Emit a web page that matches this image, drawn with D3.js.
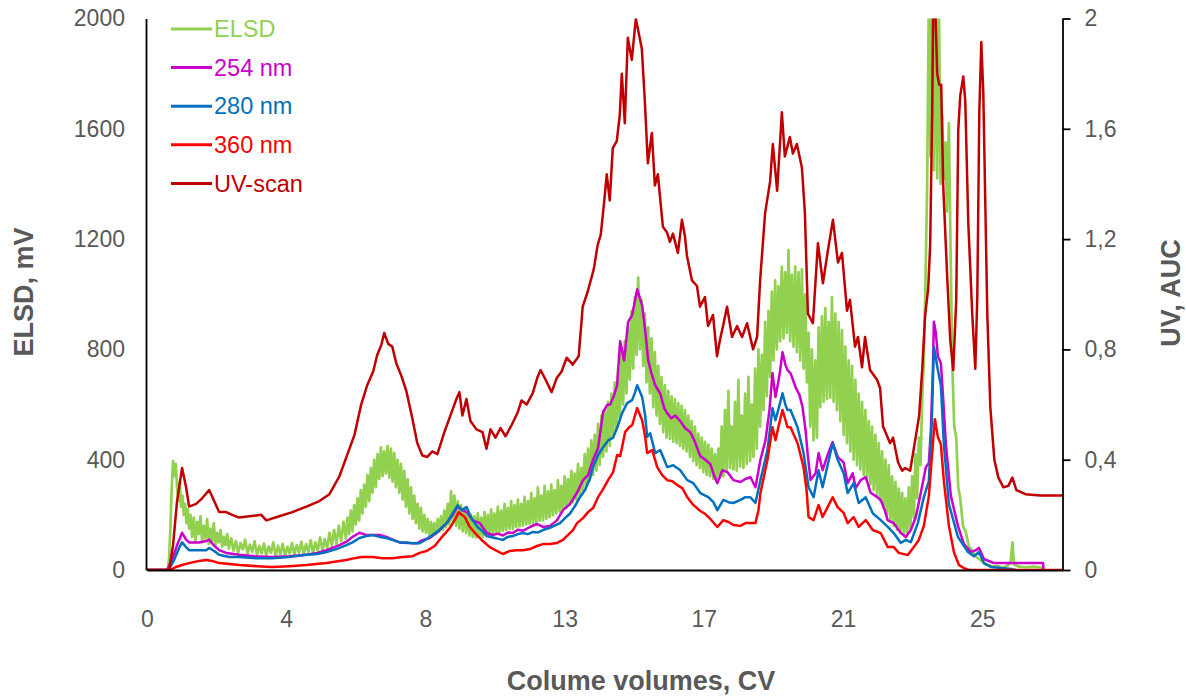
<!DOCTYPE html>
<html>
<head>
<meta charset="utf-8">
<script src="https://cdn.jsdelivr.net/npm/d3@7"></script>
<style>
  html, body { margin: 0; padding: 0; background: #ffffff; }
  svg { display: block; font-family: "Liberation Sans", Arial, sans-serif; }
</style>
</head>
<body>
<svg id="chart" width="1186" height="697"></svg>
<script>
// ---- Axis ticks ----
const xTickValues = [0, 4.1667, 8.3333, 12.5, 16.6667, 20.8333, 25];
const xTickLabels = ["0", "4", "8", "13", "17", "21", "25"];
const elsdTicks = [0, 400, 800, 1200, 1600, 2000];
const uvTicks = [0, 0.4, 0.8, 1.2, 1.6, 2];
const uvTickLabels = ["0", "0,4", "0,8", "1,2", "1,6", "2"];

// ---- Series names and colours ----
const seriesNames = ["ELSD", "254 nm", "280 nm", "360 nm", "UV-scan"];
const seriesColors = ["#92D050", "#CC00CC", "#0070C0", "#FF0000", "#C00000"];

// ---- ELSD signal, [CV, mV] (noisy detector trace) ----
const elsd = [
  [0,0],[0.62,0],[0.66,40],[0.7,150],[0.74,300],[0.78,395],[0.82,340],[0.86,385],[0.9,300],[0.94,250],[0.98,320],[1.02,230],[1.06,270],[1.1,200],[1.14,240],[1.18,170],[1.22,220],[1.26,150],[1.3,200],
  [1.35,120],[1.4,190],[1.45,105],[1.5,175],[1.55,130],[1.6,195],[1.65,100],[1.7,160],[1.75,115],[1.8,185],[1.85,95],[1.9,150],[1.95,105],[2.0,170],[2.05,90],[2.1,135],[2.15,100],[2.2,145],[2.25,85],[2.3,120],[2.35,90],[2.4,130],[2.45,78],
  [2.52,115],[2.59,70],[2.66,105],[2.73,62],[2.8,98],[2.87,75],[2.94,110],[3.01,58],[3.08,92],[3.15,66],[3.22,104],[3.29,55],[3.36,88],[3.43,60],[3.5,96],[3.57,52],[3.64,85],[3.71,62],[3.78,100],[3.85,50],[3.92,88],[3.99,57],[4.06,95],[4.13,52],[4.2,84],[4.27,60],[4.34,98],[4.41,55],[4.48,90],[4.55,63],[4.62,102],[4.69,58],[4.76,94],[4.83,66],[4.9,108],[4.97,62],[5.04,100],[5.11,70],[5.18,118],[5.25,72],[5.32,112],[5.39,80],[5.46,135],[5.53,88],[5.6,145],[5.67,95],[5.74,160],[5.81,105],[5.88,175],[5.95,115],
  [6.0,190],[6.05,130],[6.1,215],[6.15,140],[6.2,235],[6.25,165],[6.3,260],[6.35,180],[6.4,290],[6.45,205],[6.5,310],[6.55,230],[6.6,345],[6.65,250],[6.7,370],[6.75,280],[6.8,400],[6.85,300],[6.9,420],[6.95,330],[7.0,445],[7.05,340],[7.1,430],[7.15,350],[7.2,450],
  [7.25,335],[7.3,440],[7.35,320],[7.4,425],[7.45,300],[7.5,400],[7.55,280],[7.6,385],[7.65,255],[7.7,360],[7.75,230],[7.8,330],[7.85,205],[7.9,300],[7.95,185],[8.0,270],[8.05,170],[8.1,240],[8.15,150],[8.2,225],[8.25,140],[8.3,200],[8.35,135],[8.4,185],[8.45,128],[8.5,175],[8.55,125],
  [8.6,170],[8.65,130],[8.7,185],[8.75,138],[8.8,195],[8.85,145],[8.9,215],[8.95,155],[9.0,240],[9.05,165],[9.1,285],[9.15,175],[9.2,270],[9.25,160],[9.3,250],[9.35,150],[9.4,235],[9.45,140],[9.5,225],[9.55,135],[9.6,215],[9.65,125],
  [9.7,200],[9.75,120],[9.8,195],[9.85,118],[9.9,205],[9.95,122],[10.0,190],[10.05,120],[10.1,210],[10.15,128],[10.2,200],[10.25,125],[10.3,220],[10.35,132],[10.4,205],[10.45,135],[10.5,230],[10.55,138],[10.6,215],[10.65,142],[10.7,240],[10.75,145],[10.8,225],[10.85,150],[10.9,250],[10.95,148],[11.0,235],[11.05,155],[11.1,255],[11.15,158],[11.2,240],[11.25,160],[11.3,265],[11.35,165],[11.4,250],[11.45,168],[11.5,280],[11.55,170],[11.6,260],[11.65,172],[11.7,300],[11.75,178],[11.8,270],[11.85,180],[11.9,305],[11.95,185],[12.0,285],[12.05,192],[12.1,310],[12.15,198],[12.2,290],[12.25,205],[12.3,325],[12.35,212],[12.4,305],[12.45,220],
  [12.5,340],[12.55,225],[12.6,330],[12.65,235],[12.7,360],[12.75,245],[12.8,350],[12.85,255],[12.9,385],[12.95,270],[13.0,370],[13.05,285],[13.1,420],[13.15,305],[13.2,440],[13.25,325],[13.3,470],[13.35,345],[13.4,490],[13.45,360],
  [13.5,530],[13.55,380],[13.6,560],[13.65,410],[13.7,580],[13.75,430],[13.8,610],[13.85,450],[13.9,640],[13.95,480],[14.0,680],[14.05,510],[14.1,730],[14.15,550],[14.2,790],[14.25,600],[14.3,830],[14.35,640],[14.4,880],[14.45,690],[14.5,940],[14.55,730],[14.6,990],[14.65,780],[14.7,1060],[14.75,800],[14.8,980],
  [14.85,740],[14.9,930],[14.95,680],[15.0,880],[15.05,640],[15.1,840],[15.15,590],[15.2,790],[15.25,560],
  [15.3,740],[15.35,530],[15.4,700],[15.45,500],[15.5,670],[15.55,480],[15.6,650],[15.65,475],[15.7,630],[15.75,465],[15.8,620],[15.85,460],[15.9,605],[15.95,450],[16.0,595],[16.05,440],[16.1,580],[16.15,430],
  [16.2,560],[16.25,410],[16.3,540],[16.35,395],[16.4,520],[16.45,380],[16.5,495],[16.55,370],[16.6,480],[16.65,355],[16.7,465],[16.75,345],[16.8,455],[16.85,340],[16.9,440],[16.95,330],[17.0,420],[17.05,320],[17.1,440],[17.15,335],[17.2,520],[17.25,340],[17.3,580],[17.35,355],
  [17.4,650],[17.45,370],[17.5,520],[17.55,365],[17.6,610],[17.65,360],[17.7,690],[17.75,375],[17.8,560],[17.85,370],[17.9,640],[17.95,385],[18.0,700],[18.05,395],[18.1,600],[18.15,410],[18.2,730],[18.25,440],
  [18.3,800],[18.35,520],[18.4,780],[18.45,580],[18.5,900],[18.55,630],[18.6,940],[18.65,700],[18.7,1010],[18.75,760],[18.8,1050],[18.85,800],[18.9,1030],[18.95,830],
  [19.0,1100],[19.05,840],[19.1,1080],[19.15,860],[19.2,1160],[19.25,830],[19.3,1070],[19.35,810],[19.4,1100],[19.45,790],[19.5,1080],[19.55,760],[19.6,1090],[19.65,730],[19.7,1000],[19.75,680],
  [19.8,860],[19.85,520],[19.9,800],[19.95,470],[20.0,760],[20.05,480],
  [20.1,880],[20.15,590],[20.2,920],[20.25,610],[20.3,950],[20.35,620],[20.4,900],[20.45,625],[20.5,990],[20.55,610],[20.6,930],[20.65,580],[20.7,900],[20.75,540],
  [20.8,870],[20.85,490],[20.9,810],[20.95,460],[21.0,760],[21.05,430],[21.1,740],[21.15,400],[21.2,690],[21.25,380],
  [21.3,640],[21.35,365],[21.4,610],[21.45,345],[21.5,580],[21.55,330],[21.6,540],[21.65,310],[21.7,520],[21.75,290],[21.8,490],[21.85,270],[21.9,460],[21.95,250],
  [22.0,430],[22.05,225],[22.1,400],[22.15,200],[22.2,380],[22.25,180],[22.3,340],[22.35,160],[22.4,320],[22.45,145],[22.5,295],[22.55,135],
  [22.6,280],[22.65,130],[22.7,260],[22.75,125],[22.8,300],[22.85,150],[22.9,340],[22.95,190],[23.0,420],[23.05,260],[23.1,480],[23.15,380],[23.2,620],
  [23.25,760],[23.3,1050],[23.35,1400],[23.4,2100],[23.45,1500],[23.5,2100],[23.55,1450],[23.6,2100],[23.65,1420],[23.7,2100],[23.75,1400],[23.8,1650],[23.85,1420],[23.9,1550],[23.94,1300],[24.0,1620],[24.04,1250],[24.1,750],[24.16,520],[24.22,480],[24.28,300],[24.34,260],[24.42,160],[24.5,140],
  [24.6,85],[24.7,70],[24.8,50],[24.9,40],[25.0,30],[25.1,20],[25.2,18],[25.3,12],
  [25.45,15],[25.6,8],[25.75,15],[25.85,30],[25.9,100],[25.95,20],[26.1,12],[26.3,10],[26.5,12],[26.7,10],[26.8,8]
];

// ---- 254 nm absorbance, [CV, AUC] ----
const uv254 = [
  [0,0],[0.6,0],[0.75,0.036],[0.9,0.09],[1.05,0.135],[1.17,0.11],[1.26,0.1],[1.56,0.1],[1.77,0.105],[1.86,0.11],[2.01,0.088],[2.16,0.072],[2.37,0.062],[2.76,0.055],[3.21,0.05],[3.75,0.047],[4.26,0.05],[4.77,0.055],[5.1,0.062],[5.37,0.072],[5.76,0.09],[6.0,0.105],[6.15,0.12],[6.36,0.135],[6.54,0.128],[6.75,0.127],[6.96,0.127],[7.17,0.12],[7.35,0.11],[7.56,0.1],[7.8,0.098],[8.07,0.097],[8.25,0.108],[8.46,0.116],[8.7,0.138],[8.97,0.17],[9.15,0.2],[9.3,0.232],[9.42,0.217],[9.57,0.21],[9.75,0.18],[9.96,0.17],[10.17,0.134],[10.35,0.127],[10.5,0.132],[10.65,0.125],[10.8,0.136],[10.95,0.134],[11.1,0.146],[11.25,0.142],[11.46,0.156],[11.67,0.167],[11.85,0.156],[12.06,0.16],[12.27,0.18],[12.45,0.217],[12.66,0.24],[12.87,0.28],[13.05,0.326],[13.2,0.344],[13.35,0.4],[13.5,0.442],[13.65,0.573],[13.77,0.598],[13.86,0.6],[13.98,0.634],[14.07,0.67],[14.16,0.83],[14.28,0.76],[14.4,0.9],[14.52,0.924],[14.67,1.018],[14.82,0.96],[14.91,0.87],[15.0,0.76],[15.09,0.717],[15.21,0.67],[15.36,0.64],[15.48,0.587],[15.57,0.569],[15.69,0.55],[15.81,0.56],[15.96,0.54],[16.11,0.514],[16.26,0.5],[16.38,0.47],[16.56,0.413],[16.71,0.4],[16.86,0.384],[16.98,0.34],[17.07,0.315],[17.22,0.362],[17.37,0.355],[17.55,0.326],[17.76,0.319],[17.91,0.33],[18.06,0.337],[18.21,0.3],[18.36,0.4],[18.51,0.47],[18.63,0.58],[18.72,0.714],[18.81,0.627],[18.93,0.707],[19.02,0.79],[19.11,0.743],[19.17,0.725],[19.26,0.714],[19.41,0.663],[19.53,0.634],[19.62,0.59],[19.71,0.507],[19.77,0.424],[19.86,0.326],[20.01,0.351],[20.1,0.424],[20.22,0.362],[20.37,0.417],[20.52,0.464],[20.67,0.41],[20.76,0.4],[20.85,0.39],[20.97,0.315],[21.12,0.351],[21.21,0.297],[21.36,0.326],[21.51,0.337],[21.66,0.28],[21.81,0.268],[21.96,0.254],[22.08,0.217],[22.17,0.18],[22.35,0.17],[22.56,0.134],[22.71,0.12],[22.86,0.145],[23.01,0.192],[23.16,0.28],[23.31,0.373],[23.4,0.388],[23.46,0.507],[23.52,0.725],[23.55,0.9],[23.61,0.86],[23.67,0.775],[23.76,0.75],[23.82,0.64],[23.91,0.456],[24.06,0.268],[24.27,0.16],[24.45,0.094],[24.66,0.065],[24.81,0.072],[24.9,0.08],[25.05,0.04],[25.35,0.025],[25.86,0.025],[26.31,0.025],[26.82,0.025],[26.83,0]
];

// ---- 280 nm absorbance, [CV, AUC] ----
const uv280 = [
  [0,0],[0.65,0],[0.81,0.036],[0.96,0.08],[1.05,0.1],[1.17,0.083],[1.26,0.072],[1.56,0.072],[1.77,0.072],[1.86,0.08],[2.01,0.069],[2.16,0.055],[2.46,0.047],[2.76,0.047],[3.27,0.043],[3.75,0.043],[4.26,0.047],[4.77,0.055],[5.1,0.058],[5.37,0.065],[5.67,0.076],[5.97,0.09],[6.15,0.1],[6.36,0.116],[6.57,0.123],[6.75,0.127],[6.96,0.12],[7.17,0.116],[7.35,0.109],[7.56,0.1],[7.77,0.1],[7.95,0.097],[8.16,0.097],[8.31,0.108],[8.46,0.12],[8.7,0.14],[8.97,0.17],[9.12,0.2],[9.3,0.235],[9.42,0.217],[9.57,0.228],[9.66,0.2],[9.75,0.18],[9.9,0.155],[10.05,0.14],[10.17,0.123],[10.41,0.116],[10.55,0.112],[10.65,0.109],[10.8,0.12],[10.95,0.123],[11.1,0.13],[11.25,0.134],[11.4,0.13],[11.55,0.138],[11.7,0.136],[11.85,0.145],[12.12,0.156],[12.36,0.17],[12.51,0.188],[12.66,0.205],[12.81,0.232],[12.96,0.265],[13.11,0.29],[13.26,0.333],[13.35,0.373],[13.5,0.417],[13.65,0.445],[13.8,0.47],[13.95,0.48],[14.1,0.525],[14.22,0.569],[14.37,0.605],[14.52,0.616],[14.61,0.645],[14.67,0.67],[14.82,0.627],[14.91,0.56],[14.97,0.482],[15.06,0.496],[15.21,0.424],[15.36,0.435],[15.48,0.4],[15.57,0.373],[15.75,0.38],[15.96,0.362],[16.17,0.326],[16.35,0.315],[16.56,0.279],[16.8,0.264],[16.95,0.246],[17.07,0.217],[17.25,0.254],[17.4,0.246],[17.55,0.243],[17.76,0.254],[17.91,0.264],[18.06,0.264],[18.21,0.243],[18.36,0.326],[18.57,0.435],[18.72,0.587],[18.81,0.543],[18.93,0.598],[19.02,0.641],[19.11,0.598],[19.17,0.58],[19.26,0.58],[19.47,0.518],[19.65,0.424],[19.8,0.3],[19.95,0.264],[20.1,0.362],[20.22,0.3],[20.37,0.38],[20.52,0.46],[20.67,0.4],[20.85,0.351],[20.97,0.279],[21.15,0.315],[21.3,0.243],[21.51,0.264],[21.72,0.206],[21.96,0.181],[22.17,0.156],[22.35,0.134],[22.56,0.098],[22.71,0.109],[22.86,0.101],[23.07,0.17],[23.25,0.264],[23.4,0.322],[23.49,0.543],[23.55,0.81],[23.67,0.725],[23.76,0.67],[23.85,0.456],[24.0,0.239],[24.27,0.12],[24.57,0.065],[24.75,0.05],[24.9,0.065],[25.05,0.025],[25.26,0.011],[25.56,0.007],[25.86,0.004],[26.0,0]
];

// ---- 360 nm absorbance, [CV, AUC] ----
const uv360 = [
  [0,0],[0.7,0],[0.87,0.011],[1.05,0.018],[1.26,0.025],[1.56,0.033],[1.77,0.036],[1.95,0.033],[2.16,0.025],[2.46,0.022],[2.76,0.018],[3.27,0.014],[3.75,0.011],[4.26,0.014],[4.77,0.018],[5.37,0.025],[5.76,0.033],[5.97,0.036],[6.21,0.043],[6.42,0.047],[6.75,0.047],[7.05,0.043],[7.35,0.043],[7.65,0.047],[7.95,0.05],[8.16,0.062],[8.37,0.069],[8.61,0.087],[8.85,0.123],[9.06,0.152],[9.21,0.181],[9.33,0.21],[9.42,0.2],[9.51,0.192],[9.66,0.156],[9.87,0.127],[10.05,0.105],[10.26,0.083],[10.47,0.069],[10.65,0.058],[10.86,0.069],[11.07,0.072],[11.25,0.072],[11.46,0.076],[11.67,0.087],[11.85,0.094],[12.06,0.094],[12.27,0.098],[12.45,0.109],[12.6,0.127],[12.75,0.145],[12.87,0.17],[13.05,0.188],[13.2,0.21],[13.35,0.225],[13.5,0.264],[13.65,0.293],[13.8,0.326],[13.95,0.355],[14.07,0.417],[14.16,0.413],[14.22,0.446],[14.31,0.5],[14.43,0.518],[14.52,0.525],[14.67,0.587],[14.82,0.543],[14.91,0.482],[14.97,0.424],[15.12,0.435],[15.27,0.373],[15.42,0.344],[15.57,0.326],[15.72,0.322],[15.87,0.308],[16.02,0.297],[16.17,0.264],[16.35,0.236],[16.56,0.214],[16.71,0.203],[16.86,0.185],[17.07,0.156],[17.25,0.181],[17.4,0.174],[17.55,0.163],[17.76,0.16],[17.91,0.17],[18.06,0.17],[18.21,0.17],[18.3,0.217],[18.36,0.279],[18.57,0.4],[18.72,0.518],[18.81,0.471],[18.93,0.536],[19.02,0.58],[19.11,0.543],[19.17,0.518],[19.26,0.518],[19.47,0.46],[19.65,0.373],[19.74,0.29],[19.8,0.192],[19.95,0.181],[20.1,0.236],[20.22,0.192],[20.37,0.228],[20.52,0.264],[20.67,0.228],[20.85,0.207],[20.97,0.17],[21.15,0.192],[21.3,0.156],[21.51,0.181],[21.72,0.145],[21.96,0.134],[22.17,0.083],[22.35,0.083],[22.5,0.062],[22.77,0.054],[22.95,0.083],[23.1,0.109],[23.25,0.16],[23.4,0.268],[23.52,0.456],[23.58,0.547],[23.67,0.482],[23.76,0.456],[23.85,0.322],[24.0,0.16],[24.15,0.065],[24.3,0.018],[24.45,0.007],[24.6,0],[27.4,0]
];

// ---- UV-scan absorbance, [CV, AUC] ----
const uvScan = [
  [0,0],[0.66,0],[0.78,0.09],[0.9,0.25],[1.05,0.37],[1.17,0.3],[1.26,0.23],[1.47,0.24],[1.65,0.26],[1.86,0.29],[2.01,0.25],[2.16,0.21],[2.37,0.21],[2.55,0.2],[2.76,0.19],[3.06,0.195],[3.42,0.2],[3.57,0.18],[3.96,0.195],[4.35,0.21],[4.77,0.23],[5.16,0.25],[5.46,0.275],[5.76,0.34],[6.0,0.42],[6.21,0.49],[6.41,0.6],[6.59,0.67],[6.77,0.72],[6.89,0.78],[7.01,0.815],[7.1,0.86],[7.22,0.82],[7.34,0.81],[7.46,0.75],[7.61,0.705],[7.76,0.65],[7.94,0.55],[8.09,0.46],[8.24,0.415],[8.39,0.41],[8.54,0.43],[8.69,0.42],[8.9,0.5],[9.11,0.57],[9.26,0.62],[9.35,0.645],[9.44,0.56],[9.56,0.62],[9.68,0.54],[9.86,0.51],[10.04,0.5],[10.16,0.44],[10.28,0.51],[10.43,0.48],[10.58,0.515],[10.73,0.485],[10.91,0.525],[11.09,0.57],[11.21,0.615],[11.36,0.6],[11.54,0.64],[11.69,0.7],[11.78,0.725],[11.93,0.69],[12.11,0.645],[12.26,0.695],[12.41,0.72],[12.56,0.77],[12.74,0.745],[12.92,0.775],[13.04,0.955],[13.19,1.01],[13.28,1.05],[13.37,1.09],[13.49,1.18],[13.58,1.215],[13.67,1.32],[13.76,1.435],[13.85,1.34],[13.94,1.53],[14.06,1.555],[14.15,1.65],[14.21,1.8],[14.3,1.62],[14.39,1.93],[14.51,1.85],[14.63,2.0],[14.81,1.89],[14.9,1.7],[14.99,1.475],[15.11,1.585],[15.2,1.395],[15.29,1.435],[15.44,1.245],[15.56,1.225],[15.65,1.19],[15.74,1.22],[15.89,1.15],[16.01,1.27],[16.1,1.21],[16.16,1.14],[16.31,1.05],[16.46,1.03],[16.55,0.955],[16.7,0.99],[16.79,0.885],[16.94,0.925],[17.06,0.775],[17.15,0.835],[17.24,0.885],[17.36,0.955],[17.51,0.845],[17.66,0.885],[17.81,0.845],[17.96,0.895],[18.14,0.8],[18.26,0.845],[18.35,1.05],[18.5,1.295],[18.65,1.41],[18.73,1.545],[18.86,1.375],[19.0,1.66],[19.09,1.5],[19.24,1.57],[19.33,1.51],[19.45,1.545],[19.6,1.46],[19.69,1.295],[19.78,0.93],[19.93,0.895],[20.08,1.185],[20.23,1.04],[20.38,1.16],[20.53,1.27],[20.68,1.115],[20.8,1.15],[20.95,0.94],[21.04,0.98],[21.19,0.81],[21.28,0.845],[21.4,0.735],[21.49,0.845],[21.64,0.725],[21.85,0.69],[21.94,0.66],[22.03,0.52],[22.24,0.46],[22.33,0.48],[22.48,0.39],[22.6,0.36],[22.69,0.37],[22.84,0.36],[22.99,0.47],[23.11,0.56],[23.2,0.725],[23.29,0.925],[23.38,1.02],[23.44,1.18],[23.5,1.66],[23.53,2.05],[23.59,2.05],[23.65,1.8],[23.71,1.76],[23.77,1.76],[23.83,1.395],[23.95,1.06],[24.04,0.835],[24.13,0.725],[24.22,0.98],[24.28,1.595],[24.34,1.72],[24.43,1.79],[24.49,1.7],[24.58,1.26],[24.7,0.925],[24.79,0.73],[24.85,0.99],[24.91,1.66],[24.97,1.915],[25.03,1.73],[25.15,0.925],[25.24,0.59],[25.36,0.4],[25.48,0.335],[25.63,0.3],[25.78,0.305],[25.9,0.335],[26.02,0.29],[26.29,0.275],[26.74,0.27],[27.4,0.27]
];

// ---- Layout ----
const svg = d3.select("#chart");
const plot = { left: 147, right: 1062.5, top: 18.5, bottom: 570 };
const textGrey = "#595959";

const x = d3.scaleLinear().domain([0, 27.4]).range([plot.left, plot.right]);
const yLeft = d3.scaleLinear().domain([0, 2000]).range([plot.bottom, plot.top]);
const yRight = d3.scaleLinear().domain([0, 2]).range([plot.bottom, plot.top]);

svg.append("defs").append("clipPath").attr("id", "plotClip")
  .append("rect")
  .attr("x", plot.left).attr("y", plot.top)
  .attr("width", plot.right - plot.left).attr("height", plot.bottom - plot.top + 1);

// ---- Traces ----
const lineLeft = d3.line().x(d => x(d[0])).y(d => yLeft(d[1]));
const lineRight = d3.line().x(d => x(d[0])).y(d => yRight(d[1]));

const traces = svg.append("g").attr("clip-path", "url(#plotClip)")
  .attr("fill", "none").attr("stroke-linejoin", "round").attr("stroke-linecap", "round");

traces.append("path").attr("d", lineLeft(elsd))
  .attr("stroke", seriesColors[0]).attr("stroke-width", 2.7);
[uv254, uv280, uv360, uvScan].forEach((s, i) => {
  traces.append("path").attr("d", lineRight(s))
    .attr("stroke", seriesColors[i + 1]).attr("stroke-width", 2.5);
});

// ---- Axes ----
function styleAxis(g) {
  g.select(".domain").attr("stroke", "#000").attr("stroke-width", 1.8);
  g.selectAll(".tick line").attr("stroke", "#000").attr("stroke-width", 1.8);
  g.selectAll(".tick text").attr("fill", textGrey).attr("font-size", 23)
    .attr("font-family", "'Liberation Sans', Arial, sans-serif");
}

svg.append("g")
  .attr("transform", `translate(0,${plot.bottom})`)
  .call(d3.axisBottom(x).tickValues(xTickValues)
    .tickFormat((d, i) => xTickLabels[i]).tickSize(0).tickPadding(41))
  .call(styleAxis);

svg.append("g")
  .attr("transform", `translate(${plot.left - 1},0)`)
  .call(d3.axisLeft(yLeft).tickValues(elsdTicks).tickFormat(d3.format("d"))
    .tickSize(0).tickPadding(21))
  .call(styleAxis);

svg.append("g")
  .attr("transform", `translate(${plot.right},0)`)
  .call(d3.axisRight(yRight).tickValues(uvTicks)
    .tickFormat((d, i) => uvTickLabels[i]).tickSize(8).tickSizeOuter(0).tickPadding(14))
  .call(styleAxis);

// ---- Axis titles ----
const titleStyle = sel => sel.attr("fill", textGrey).attr("font-size", 27)
  .attr("font-weight", "bold").attr("text-anchor", "middle");

svg.append("text").text("Colume volumes, CV")
  .attr("x", 641).attr("y", 690).call(titleStyle);
svg.append("text").text("ELSD, mV")
  .attr("transform", "translate(33,292) rotate(-90)").call(titleStyle);
svg.append("text").text("UV, AUC")
  .attr("transform", "translate(1180,293) rotate(-90)").call(titleStyle);

// ---- Legend ----
const legend = svg.append("g").attr("transform", "translate(171,29)");
const items = legend.selectAll("g").data(seriesNames).join("g")
  .attr("transform", (d, i) => `translate(0,${i * 38.6})`);
items.append("line").attr("x1", 0).attr("x2", 41).attr("y1", 0).attr("y2", 0)
  .attr("stroke", (d, i) => seriesColors[i]).attr("stroke-width", 3);
items.append("text").text(d => d)
  .attr("x", 43).attr("y", 0).attr("dy", "0.35em")
  .attr("fill", (d, i) => seriesColors[i]).attr("font-size", 23.5);
</script>
</body>
</html>
